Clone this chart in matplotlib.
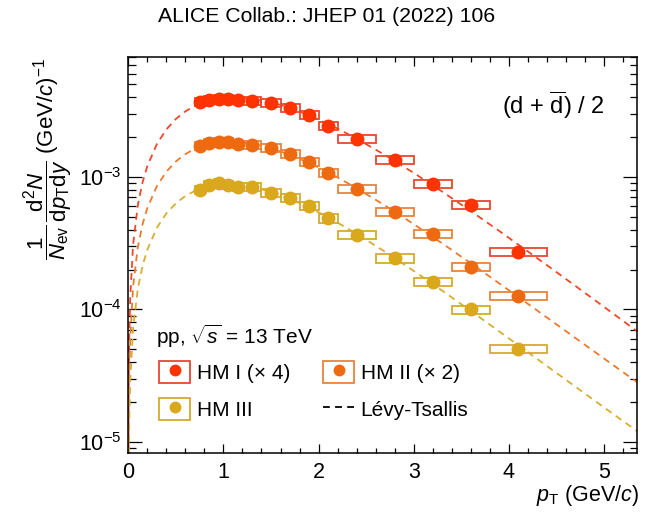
import numpy as np
import matplotlib
matplotlib.use("Agg")
import matplotlib.pyplot as plt
from matplotlib.lines import Line2D
from matplotlib.patches import Rectangle
from matplotlib.legend_handler import HandlerTuple
from matplotlib.ticker import LogLocator, MultipleLocator, NullFormatter

plt.rcParams['font.family'] = ['Liberation Sans', 'DejaVu Sans']
plt.rcParams['mathtext.fontset'] = 'custom'
plt.rcParams['mathtext.rm'] = 'Liberation Sans'
plt.rcParams['mathtext.it'] = 'Liberation Sans:italic'
plt.rcParams['mathtext.bf'] = 'Liberation Sans:bold'
plt.rcParams['mathtext.sf'] = 'Liberation Sans'

# ---- data ----
bin_edges = [0.7, 0.8, 0.9, 1.0, 1.1, 1.2, 1.4, 1.6, 1.8, 2.0, 2.2, 2.6, 3.0, 3.4, 3.8, 4.4]
pt_centers = [0.75, 0.85, 0.95, 1.05, 1.15, 1.3, 1.5, 1.7, 1.9, 2.1, 2.4, 2.8, 3.2, 3.6, 4.1]

hm1_x4 = [3.70e-3, 3.81e-3, 3.90e-3, 3.88e-3, 3.83e-3, 3.75e-3, 3.64e-3, 3.30e-3,
          2.94e-3, 2.44e-3, 1.94e-3, 1.34e-3, 8.9e-4, 6.15e-4, 2.72e-4]
hm2_x2 = [1.72e-3, 1.80e-3, 1.85e-3, 1.83e-3, 1.78e-3, 1.74e-3, 1.66e-3, 1.49e-3,
          1.30e-3, 1.08e-3, 8.1e-4, 5.47e-4, 3.70e-4, 2.10e-4, 1.27e-4]
hm3 = [7.97e-4, 8.65e-4, 8.96e-4, 8.70e-4, 8.45e-4, 8.45e-4, 7.61e-4, 6.91e-4,
       6.04e-4, 4.87e-4, 3.65e-4, 2.43e-4, 1.62e-4, 1.00e-4, 5.03e-5]
sys_rel = [0.07, 0.07, 0.07, 0.07, 0.07, 0.07, 0.07, 0.07,
           0.07, 0.07, 0.07, 0.07, 0.07, 0.07, 0.07]

# Levy-Tsallis fit curves
fit_pt = [0.0005, 0.002, 0.005, 0.01, 0.02, 0.05, 0.1, 0.15, 0.2, 0.3, 0.4, 0.5, 0.6, 0.7,
          0.8, 0.9, 1.0, 1.1, 1.2, 1.4, 1.6, 1.8, 2.0, 2.2, 2.4, 2.7, 3.0, 3.3,
          3.6, 3.9, 4.2, 4.5, 4.8, 5.1, 5.4]
fit_hm1 = [3.08e-6, 1.231e-5, 3.08e-5, 6.16e-5, 1.231e-4, 3.075e-4, 6.128e-4, 9.138e-4,
           1.208e-3, 1.770e-3, 2.284e-3, 2.739e-3, 3.127e-3, 3.442e-3, 3.683e-3,
           3.852e-3, 3.952e-3, 3.989e-3, 3.970e-3, 3.796e-3, 3.492e-3, 3.116e-3,
           2.713e-3, 2.315e-3, 1.944e-3, 1.460e-3, 1.073e-3, 7.747e-4, 5.526e-4,
           3.906e-4, 2.742e-4, 1.916e-4, 1.334e-4, 9.269e-5, 6.433e-5]
fit_hm2 = [1.49e-6, 5.945e-6, 1.486e-5, 2.972e-5, 5.944e-5, 1.484e-4, 2.957e-4, 4.407e-4,
           5.824e-4, 8.515e-4, 1.096e-3, 1.309e-3, 1.488e-3, 1.630e-3, 1.735e-3,
           1.804e-3, 1.840e-3, 1.845e-3, 1.823e-3, 1.719e-3, 1.559e-3, 1.371e-3,
           1.177e-3, 9.915e-4, 8.225e-4, 6.079e-4, 4.407e-4, 3.151e-4, 2.232e-4,
           1.572e-4, 1.103e-4, 7.725e-5, 5.409e-5, 3.791e-5, 2.660e-5]
fit_hm3 = [7.2e-7, 2.889e-6, 7.22e-6, 1.444e-5, 2.888e-5, 7.212e-5, 1.437e-4, 2.141e-4,
           2.827e-4, 4.130e-4, 5.307e-4, 6.330e-4, 7.179e-4, 7.846e-4, 8.328e-4,
           8.633e-4, 8.774e-4, 8.768e-4, 8.637e-4, 8.081e-4, 7.271e-4, 6.345e-4,
           5.406e-4, 4.519e-4, 3.721e-4, 2.722e-4, 1.955e-4, 1.386e-4, 9.746e-5,
           6.820e-5, 4.760e-5, 3.320e-5, 2.317e-5, 1.620e-5, 1.136e-5]

series_labels = ['HM I (\u00d7 4)', 'HM II (\u00d7 2)', 'HM III']
marker_colors = ['#FF3300', '#EE6A10', '#D9A81C']
box_colors = ['#E84830', '#E8843A', '#D4AB2E']
line_colors = ['#F04828', '#EC7A2E', '#D8AE30']

# ---- figure ----
fig = plt.figure(figsize=(6.54, 5.14), dpi=100)
ax = fig.add_axes([0.1962, 0.1193, 0.7774, 0.7693])
ax.set_yscale('log')

edges = np.array(bin_edges)
widths = edges[1:] - edges[:-1]
dash = (0, (3.8, 2.9))

handles = []
for vals, fit, lab, mc, bc, lc in zip([hm1_x4, hm2_x2, hm3], [fit_hm1, fit_hm2, fit_hm3],
                                      series_labels, marker_colors, box_colors, line_colors):
    v = np.array(vals)
    s = v * np.array(sys_rel)
    ax.plot(fit_pt, fit, linestyle=dash, color=lc, lw=1.3, zorder=2)
    ax.bar(pt_centers, 2 * s, bottom=v - s, width=widths, fill=False,
           edgecolor=bc, linewidth=1.3, zorder=3)
    ax.plot(pt_centers, v, 'o', ms=9, color=mc, mec=mc, zorder=4)
    h = (Rectangle((0, 0), 1, 1, fill=False, edgecolor=bc, linewidth=1.3),
         Line2D([], [], marker='o', ms=7.5, color=mc, linestyle='none'))
    handles.append(h)

ax.set_xlim(0, 5.345)
ax.set_ylim(8.3e-6, 8.0e-3)

ax.xaxis.set_major_locator(MultipleLocator(1))
ax.xaxis.set_minor_locator(MultipleLocator(0.2))
ax.yaxis.set_major_locator(LogLocator(base=10, numticks=10))
ax.yaxis.set_minor_locator(LogLocator(base=10, subs=np.arange(2, 10), numticks=20))
ax.yaxis.set_minor_formatter(NullFormatter())
ax.tick_params(axis='both', which='both', direction='in', top=True, right=True,
               labelsize=15.5, width=0.9)
ax.tick_params(axis='x', which='major', length=6.7, pad=7)
ax.tick_params(axis='x', which='minor', length=3.3)
ax.tick_params(axis='y', which='major', length=10, pad=5)
ax.tick_params(axis='y', which='minor', length=5.4)
for sp in ax.spines.values():
    sp.set_linewidth(1.1)

# axis titles
ax.text(1.005, -0.122, r'$p_{\rm T}$ (GeV/$c$)', transform=ax.transAxes,
        ha='right', va='baseline', fontsize=15.5)
fig.text(48 / 654, 1 - 58 / 514,
         r'$\dfrac{1}{N_{\rm ev}}\,\dfrac{{\rm d}^{2}N}{{\rm d}p_{\rm T}{\rm d}y}$ (GeV/$c$)$^{-1}$',
         rotation=90, ha='center', va='top', fontsize=16)

fig.text(0.5, 1 - 16 / 514, 'ALICE Collab.: JHEP 01 (2022) 106', ha='center', va='center',
         fontsize=15.3)

ax.text(0.936, 0.879, r'(d + $\overline{\mathrm{d}}$) / 2', transform=ax.transAxes,
        ha='right', va='center', fontsize=17)
ax.text(0.0545, 0.295, r'pp, $\sqrt{s}$ = 13 TeV', transform=ax.transAxes,
        ha='left', va='center', fontsize=15)

fit_handle = Line2D([], [], color='black', linestyle=dash, lw=1.3)
leg_handles = [handles[0], handles[2], handles[1], fit_handle]
leg_labels = [series_labels[0], series_labels[2], series_labels[1], 'L\u00e9vy-Tsallis']
leg = ax.legend(leg_handles, leg_labels, ncol=2, loc='upper left',
                bbox_to_anchor=(0.0604, 0.233), frameon=False, fontsize=15,
                handlelength=1.5, handleheight=1.25, handletextpad=0.3,
                labelspacing=0.74, columnspacing=1.6, borderpad=0, borderaxespad=0,
                handler_map={tuple: HandlerTuple(ndivide=1, pad=0)})

fig.savefig('out.png', dpi=100)
